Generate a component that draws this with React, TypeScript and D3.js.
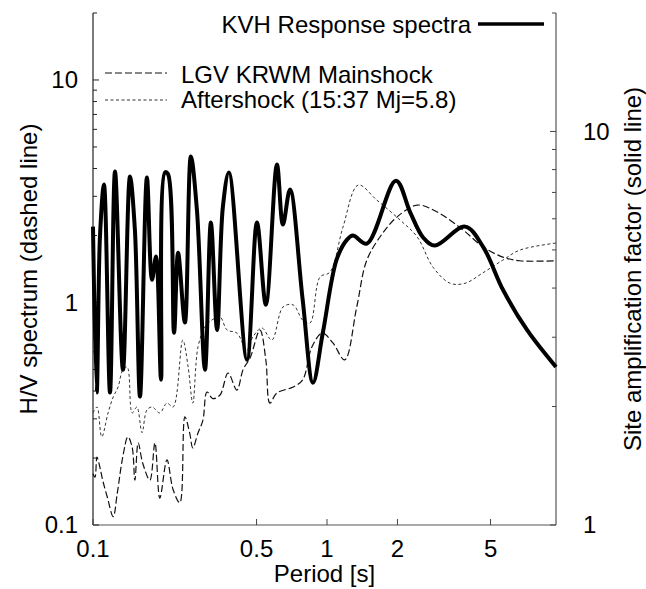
import React from 'react';
import * as d3 from 'd3';

// ---------- data ----------
const periodTicks = [0.1, 0.5, 1, 2, 5];
const periodTickLabels = ['0.1', '0.5', '1', '2', '5'];
const hvTicks = [0.1, 1, 10];
const hvTickLabels = ['0.1', '1', '10'];
const ampTicks = [1, 10];
const ampTickLabels = ['1', '10'];

// KVH response spectra (site amplification factor, right axis)
const solidPeriod = [0.1, 0.1037, 0.1071, 0.1114, 0.1182, 0.1242, 0.1343, 0.1439, 0.151, 0.1588, 0.17, 0.1787, 0.186, 0.1953, 0.203, 0.209, 0.222, 0.231, 0.247, 0.262, 0.278, 0.301, 0.319, 0.339, 0.359, 0.381, 0.455, 0.502, 0.548, 0.611, 0.648, 0.695, 0.787, 0.871, 0.96, 1.1, 1.218, 1.29, 1.48, 1.97, 2.27, 2.58, 2.89, 3.89, 4.64, 5.65, 7.16, 9.52];
const solidAmp = [5.73, 2.17, 5.41, 7.33, 2.17, 7.91, 2.48, 7.68, 5.63, 2.12, 7.64, 4.2, 4.81, 2.34, 7.87, 7.8, 3.08, 4.92, 3.27, 8.64, 6.33, 2.48, 5.87, 3.13, 6.44, 7.87, 2.63, 5.87, 3.63, 8.24, 5.8, 7.12, 3.74, 2.3, 3.08, 4.73, 5.31, 5.44, 5.19, 7.5, 6.22, 5.37, 5.13, 5.73, 5.1, 3.96, 3.13, 2.52];

// LGV KRWM mainshock H/V (left axis)
const mainPeriod = [0.1, 0.102, 0.104, 0.107, 0.11, 0.115, 0.122, 0.127, 0.134, 0.141, 0.147, 0.151, 0.156, 0.163, 0.175, 0.184, 0.193, 0.207, 0.22, 0.235, 0.247, 0.259, 0.267, 0.281, 0.295, 0.307, 0.325, 0.349, 0.378, 0.412, 0.438, 0.469, 0.517, 0.548, 0.57, 0.61, 0.717, 0.787, 0.862, 0.953, 1.06, 1.19, 1.34, 1.48, 1.73, 1.99, 2.43, 2.96, 3.81, 4.64, 5.64, 6.67, 9.52];
const mainHV = [0.17, 0.164, 0.202, 0.182, 0.159, 0.134, 0.109, 0.139, 0.202, 0.249, 0.224, 0.159, 0.234, 0.19, 0.159, 0.234, 0.132, 0.196, 0.144, 0.126, 0.306, 0.259, 0.222, 0.259, 0.296, 0.396, 0.37, 0.384, 0.482, 0.404, 0.5, 0.563, 0.752, 0.55, 0.353, 0.392, 0.417, 0.449, 0.631, 0.729, 0.658, 0.552, 0.955, 1.55, 2.05, 2.42, 2.74, 2.55, 2.12, 1.78, 1.6, 1.54, 1.54];

// Aftershock (15:37 Mj=5.8) H/V (left axis)
const afterPeriod = [0.1, 0.104, 0.109, 0.116, 0.122, 0.128, 0.134, 0.14, 0.147, 0.154, 0.162, 0.17, 0.179, 0.193, 0.207, 0.22, 0.242, 0.255, 0.267, 0.281, 0.301, 0.322, 0.349, 0.374, 0.412, 0.455, 0.482, 0.527, 0.581, 0.649, 0.717, 0.787, 0.846, 0.933, 1.03, 1.17, 1.36, 1.63, 2.05, 2.43, 2.84, 3.36, 3.89, 4.64, 5.64, 6.67, 9.52];
const afterHV = [0.319, 0.339, 0.249, 0.319, 0.376, 0.417, 0.497, 0.513, 0.319, 0.339, 0.26, 0.329, 0.339, 0.319, 0.353, 0.339, 0.678, 0.513, 0.353, 0.631, 0.776, 0.834, 0.861, 0.752, 0.729, 0.612, 0.7, 0.768, 0.678, 0.955, 0.975, 0.834, 0.809, 1.3, 1.37, 2.18, 3.37, 2.89, 2.35, 1.97, 1.44, 1.22, 1.22, 1.36, 1.55, 1.72, 1.85];

// ---------- layout ----------
const W = 646;
const H = 589;
const left = 93;
const right = 556;
const top = 13;
const bottom = 525;
const FONT = 'Liberation Sans, Arial, Helvetica, sans-serif';
const FS = 24;

export default function App() {
  const x = d3.scaleLog().domain([0.1, 9.52]).range([left, right]);
  const yL = d3.scaleLog().domain([0.1, 20]).range([bottom, top]);
  const yR = d3.scaleLog().domain([1, 20]).range([bottom, top]);

  const lineL = d3
    .line<[number, number]>()
    .x((d) => x(d[0]))
    .y((d) => yL(d[1]))
    .curve(d3.curveCatmullRom.alpha(0.5));
  const lineR = d3
    .line<[number, number]>()
    .x((d) => x(d[0]))
    .y((d) => yR(d[1]))
    .curve(d3.curveCatmullRom.alpha(0.5));

  const solid = solidPeriod.map((p, i) => [p, solidAmp[i]] as [number, number]);
  const main = mainPeriod.map((p, i) => [p, mainHV[i]] as [number, number]);
  const after = afterPeriod.map((p, i) => [p, afterHV[i]] as [number, number]);

  const leftMinor: number[] = [];
  [0.1, 1].forEach((dec) => {
    for (let k = 2; k <= 9; k++) leftMinor.push(dec * k);
  });
  leftMinor.push(20);
  const rightMinor: number[] = [];
  for (let k = 2; k <= 9; k++) rightMinor.push(k);
  rightMinor.push(20);

  return (
    <div style={{ position: 'absolute', left: 0, top: 0 }}>
      <svg width={W} height={H} style={{ display: 'block', background: '#fff' }} fontFamily={FONT}>
        {/* axes */}
        <line x1={left} x2={left} y1={top} y2={bottom} stroke="#222" strokeWidth={1.2} />
        <line x1={right} x2={right} y1={top} y2={bottom} stroke="#555" strokeWidth={1.2} />
        <line x1={left} x2={right} y1={bottom} y2={bottom} stroke="#555" strokeWidth={1.2} />

        {/* left ticks */}
        {hvTicks.map((t) => (
          <line key={'lt' + t} x1={left} x2={left + 6} y1={yL(t)} y2={yL(t)} stroke="#222" />
        ))}
        {leftMinor.map((t) => (
          <line key={'lm' + t} x1={left} x2={left + 4} y1={yL(t)} y2={yL(t)} stroke="#222" />
        ))}
        {hvTicks.map((t, i) => (
          <text key={'ll' + t} x={left - 15} y={yL(t)} dy="0.35em" textAnchor="end" fontSize={FS}>
            {hvTickLabels[i]}
          </text>
        ))}

        {/* right ticks */}
        {ampTicks.map((t) => (
          <line key={'rt' + t} x1={right - 6} x2={right} y1={yR(t)} y2={yR(t)} stroke="#444" />
        ))}
        {rightMinor.map((t) => (
          <line key={'rm' + t} x1={right - 4} x2={right} y1={yR(t)} y2={yR(t)} stroke="#444" />
        ))}
        {ampTicks.map((t, i) => (
          <text key={'rl' + t} x={right + 27} y={yR(t)} dy="0.35em" textAnchor="start" fontSize={FS}>
            {ampTickLabels[i]}
          </text>
        ))}

        {/* bottom ticks */}
        {periodTicks.map((t) => (
          <line key={'bt' + t} x1={x(t)} x2={x(t)} y1={bottom} y2={bottom - 6} stroke="#444" />
        ))}
        {periodTicks.map((t, i) => (
          <text key={'bl' + t} x={x(t)} y={557} textAnchor="middle" fontSize={FS}>
            {periodTickLabels[i]}
          </text>
        ))}

        {/* axis titles */}
        <text x={(left + right) / 2} y={582} textAnchor="middle" fontSize={FS}>
          Period [s]
        </text>
        <text transform={`translate(37,${(top + bottom) / 2}) rotate(-90)`} textAnchor="middle" fontSize={FS}>
          H/V spectrum (dashed line)
        </text>
        <text transform={`translate(641,${(top + bottom) / 2}) rotate(-90)`} textAnchor="middle" fontSize={FS}>
          Site amplification factor (solid line)
        </text>

        {/* data lines */}
        <path d={lineL(after) || ''} fill="none" stroke="#333" strokeWidth={1} strokeDasharray="3 2.5" />
        <path d={lineL(main) || ''} fill="none" stroke="#111" strokeWidth={1.2} strokeDasharray="7 3" />
        <path d={lineR(solid) || ''} fill="none" stroke="#000" strokeWidth={4} strokeLinejoin="round" />

        {/* legend */}
        <text x={471} y={33} textAnchor="end" fontSize={FS}>
          KVH Response spectra
        </text>
        <line x1={478} x2={544} y1={24} y2={24} stroke="#000" strokeWidth={3.5} />
        <line x1={105} x2={167} y1={73} y2={73} stroke="#111" strokeWidth={1.2} strokeDasharray="7 3" />
        <text x={181} y={83} fontSize={FS}>
          LGV KRWM Mainshock
        </text>
        <line x1={105} x2={167} y1={100} y2={100} stroke="#333" strokeWidth={1} strokeDasharray="3 2.5" />
        <text x={181} y={108} fontSize={FS}>
          Aftershock (15:37 Mj=5.8)
        </text>
      </svg>
    </div>
  );
}
